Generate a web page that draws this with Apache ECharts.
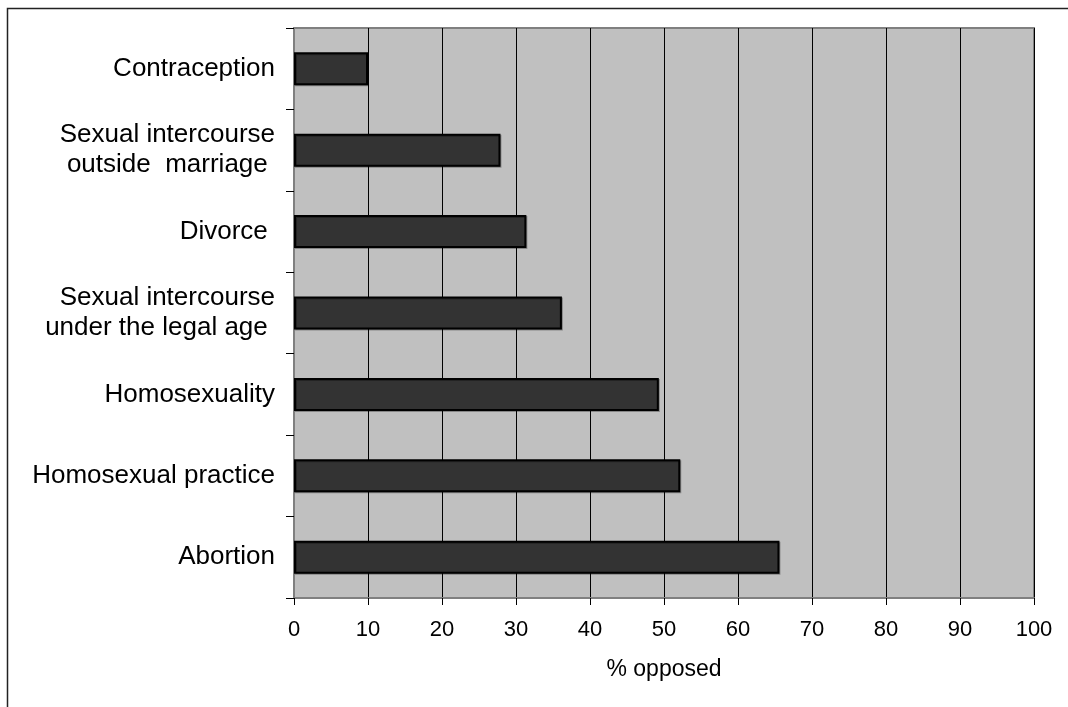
<!DOCTYPE html>
<html>
<head>
<meta charset="utf-8">
<script src="https://cdn.jsdelivr.net/npm/echarts@6/dist/echarts.min.js"></script>
<style>
html,body{margin:0;padding:0;background:#fff;}
#chart{width:1068px;height:707px;}
</style>
</head>
<body>
<div id="chart"></div>
<script>
var categories = [
  "Contraception",
  "Sexual intercourse\noutside  marriage ",
  "Divorce ",
  "Sexual intercourse\nunder the legal age ",
  "Homosexuality",
  "Homosexual practice",
  "Abortion"
];
var values = [10.0, 27.9, 31.4, 36.2, 49.3, 52.2, 65.6];
var xTicks = {min: 0, max: 100, interval: 10};
var xName = "% opposed";

var FONT = 'Liberation Sans, Arial, sans-serif';
var chart = echarts.init(document.getElementById('chart'));
chart.setOption({
  animation: false,
  backgroundColor: '#ffffff',
  textStyle: {fontFamily: FONT},
  graphic: [{
    type: 'rect',
    shape: {x: 7.5, y: 8.5, width: 1080, height: 720},
    style: {fill: 'none', stroke: '#222', lineWidth: 1.5},
    silent: true
  }],
  grid: {
    left: 294, top: 28, right: 34, bottom: 109,
    show: true, backgroundColor: '#c0c0c0',
    borderColor: '#808080', borderWidth: 2
  },
  xAxis: {
    type: 'value',
    min: xTicks.min, max: xTicks.max, interval: xTicks.interval,
    name: xName, nameLocation: 'middle', nameGap: 60,
    nameTextStyle: {fontSize: 23, color: '#000', fontFamily: FONT},
    axisLine: {show: true, lineStyle: {color: '#808080', width: 2}},
    axisTick: {show: true, length: 7, lineStyle: {color: '#000', width: 1}},
    axisLabel: {fontSize: 22, color: '#000', margin: 21, fontFamily: FONT},
    splitLine: {show: true, lineStyle: {color: '#000', width: 1}}
  },
  yAxis: {
    type: 'category',
    inverse: true,
    data: categories,
    axisLine: {show: true, lineStyle: {color: '#808080', width: 2}},
    axisTick: {show: true, length: 8, alignWithLabel: false, lineStyle: {color: '#000', width: 1}},
    axisLabel: {fontSize: 26, lineHeight: 30, color: '#000', margin: 19, align: 'right', fontFamily: FONT},
    splitLine: {show: false}
  },
  series: [{
    type: 'bar',
    data: values,
    barWidth: 33,
    itemStyle: {color: '#333333', borderColor: '#000', borderWidth: 2,
      shadowColor: 'rgba(0,0,0,0.3)', shadowOffsetX: 1, shadowOffsetY: 1, shadowBlur: 0},
    silent: true
  }]
});
</script>
</body>
</html>
